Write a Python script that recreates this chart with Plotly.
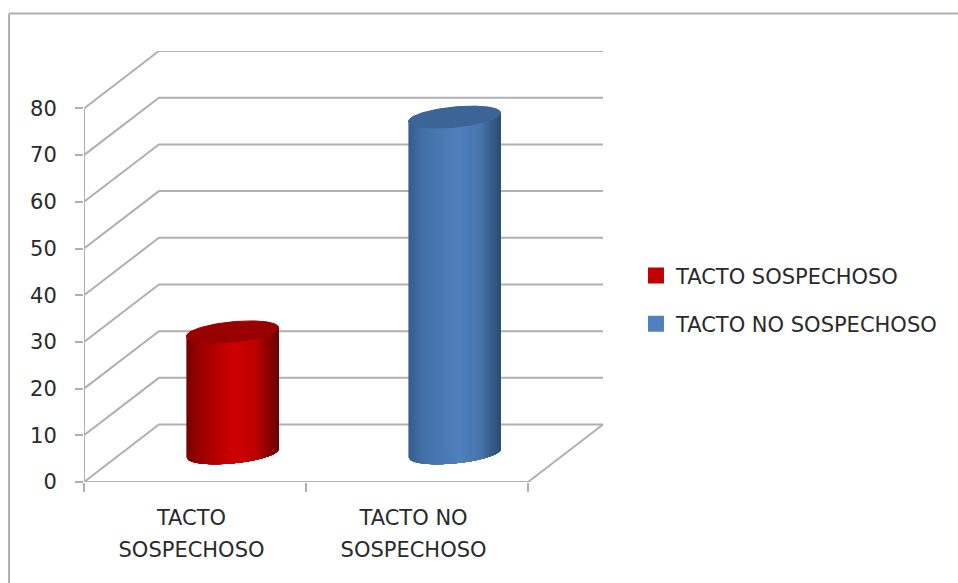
import numpy as np
import plotly.graph_objects as go

categories = ["TACTO<br>SOSPECHOSO", "TACTO NO<br>SOSPECHOSO"]
series_names = ["TACTO SOSPECHOSO", "TACTO NO SOSPECHOSO"]
series_values = [26, 72]
y_ticks = [0, 10, 20, 30, 40, 50, 60, 70, 80]

# Pixel frame of the plot area
W, H = 958, 583
LEFT, RIGHT, TOP, BOTTOM = 83.5, 603.0, 50.5, 482.0
PX_PER_CAT = 222.25
PX_PER_UNIT = 4.675

# Oblique depth of the box, in data units
DEPTH_X = 75.0 / PX_PER_CAT
DEPTH_Y = 57.5 / PX_PER_UNIT

# Elliptical cap of a cylinder, in data units
CAP_A = 42.5 / PX_PER_CAT
CAP_B = 18.0 / PX_PER_CAT
CAP_C = 11.0 / PX_PER_UNIT

GRID = "#b0b0b0"
TEXT_SIZE = 21
FONT = dict(family="DejaVu Sans", size=TEXT_SIZE, color="#2a2a2a")

# Category labels sit slightly left of the category centre
LABEL_SHIFT = 3.5 / PX_PER_CAT

# Shading stops across a cylinder: position, colour
RED_STOPS = [(0, (118, 0, 0)), (0.12, (150, 0, 0)), (0.5, (206, 0, 0)), (0.75, (190, 0, 0)), (1, (104, 0, 0))]
BLUE_STOPS = [(0, (52, 92, 140)), (0.15, (66, 112, 165)), (0.55, (80, 128, 190)), (0.78, (70, 116, 172)), (1, (44, 74, 112))]
CAP_COLORS = ["#990000", "#3c6496"]
LEGEND_COLORS = ["#c00000", "#4f81bd"]


def shade(stops, f):
    pos = [s[0] for s in stops]
    rgb = [np.interp(f, pos, [s[1][i] for s in stops]) for i in range(3)]
    return "rgb(%d,%d,%d)" % tuple(int(round(c)) for c in rgb)


fig = go.Figure()


def add_line(xs, ys):
    fig.add_trace(go.Scatter(x=xs, y=ys, mode="lines", line=dict(color=GRID, width=2),
                             hoverinfo="skip", showlegend=False, cliponaxis=False))


# Walls: each gridline runs back along the side wall, then across the rear wall
for v in y_ticks:
    add_line([0, DEPTH_X, 2 + DEPTH_X], [v, v + DEPTH_Y, v + DEPTH_Y])

# Floor outline and the vertical axis
add_line([0, 2, 2 + DEPTH_X], [0, 0, DEPTH_Y])
add_line([0, 0], [0, y_ticks[-1]])

# Cylinders: overlapping strips painted left to right for the shaded body,
# an ellipse for the lid
R = float(np.hypot(CAP_A, CAP_B))
t0 = float(np.arctan2(CAP_B, CAP_A))
N = 48


def rim_lower(dx):
    """Height of the front rim above the ellipse centre at horizontal offset dx."""
    return CAP_C * np.sin(-np.arccos(np.clip(dx / R, -1, 1)) + t0)


for i, (name, value) in enumerate(zip(series_names, series_values)):
    cx = i + 0.5 + DEPTH_X / 2
    base = DEPTH_Y / 2
    stops = RED_STOPS if i == 0 else BLUE_STOPS
    edges = np.linspace(-R, R, N + 1)
    for k in range(N):
        sub = np.linspace(edges[k], R, 60)
        low = base + rim_lower(sub)
        high = value + base + rim_lower(sub)
        fig.add_trace(go.Scatter(
            x=np.concatenate([cx + sub, (cx + sub)[::-1]]),
            y=np.concatenate([low, high[::-1]]),
            mode="lines", fill="toself", fillcolor=shade(stops, (k + 0.5) / N),
            line=dict(width=0),
            hoverinfo="skip", showlegend=False))
    t = np.linspace(0, 2 * np.pi, 121)
    fig.add_trace(go.Scatter(
        x=cx + CAP_A * np.cos(t) + CAP_B * np.sin(t),
        y=value + base + CAP_C * np.sin(t),
        mode="lines", fill="toself", fillcolor=CAP_COLORS[i],
        line=dict(color=CAP_COLORS[i], width=1),
        hoverinfo="skip", showlegend=False))

# Legend swatches
for i, name in enumerate(series_names):
    fig.add_trace(go.Scatter(
        x=[None], y=[None], name=name, mode="markers", legendgroup=name,
        marker=dict(symbol="square", size=16, color=LEGEND_COLORS[i])))

# Chart frame: only the left and top edges fall inside the window
px = lambda x: (x - LEFT) / (RIGHT - LEFT)
py = lambda y: (BOTTOM - y) / (BOTTOM - TOP)
frame = dict(type="line", xref="paper", yref="paper", line=dict(color=GRID, width=2), layer="below")

# The larger tick font only sets the line spacing of the two-line labels
x_labels = ['<span style="font-size:%dpx">%s</span>' % (TEXT_SIZE, c.replace("<br>", '</span><br><span style="font-size:%dpx">' % TEXT_SIZE))
            for c in categories]

fig.update_layout(
    width=W, height=H, autosize=False,
    margin=dict(l=LEFT, r=W - RIGHT, t=TOP, b=H - BOTTOM, pad=0),
    paper_bgcolor="white", plot_bgcolor="white",
    font=FONT,
    shapes=[
        dict(frame, x0=px(8.5), x1=px(8.5), y0=py(13), y1=py(H + 2)),
        dict(frame, x0=px(8.5), x1=px(W + 2), y0=py(13), y1=py(13)),
    ],
    xaxis=dict(
        range=[0, (RIGHT - LEFT) / PX_PER_CAT], showgrid=False, zeroline=False, showline=False,
        tickmode="array", tickvals=[0.5 - LABEL_SHIFT, 1.5 - LABEL_SHIFT], ticktext=x_labels, ticks="", ticklabelstandoff=17,
        tickfont=dict(family="DejaVu Sans", size=24.6, color="#2a2a2a"),
        minor=dict(tickmode="array", tickvals=[0, 1, 2], ticks="outside", ticklen=9, tickcolor=GRID, tickwidth=2),
        fixedrange=True,
    ),
    yaxis=dict(
        range=[0, (BOTTOM - TOP) / PX_PER_UNIT], showgrid=False, zeroline=False, showline=False,
        tickmode="array", tickvals=y_ticks, ticks="outside", ticklen=8, tickcolor=GRID, tickwidth=2,
        ticklabelstandoff=14, fixedrange=True,
    ),
    legend=dict(
        x=px(636), y=py(255), xanchor="left", yanchor="top", tracegroupgap=18,
        bgcolor="rgba(0,0,0,0)", font=FONT, itemclick=False, itemdoubleclick=False,
    ),
)

fig.write_html("out.html", config=dict(displayModeBar=False))
